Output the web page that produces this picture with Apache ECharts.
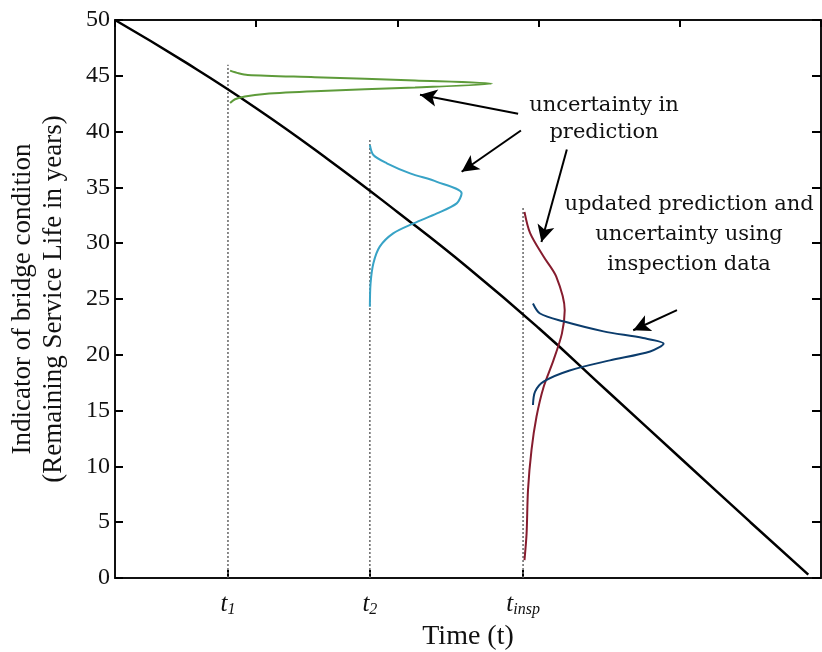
<!DOCTYPE html>
<html>
<head>
<meta charset="utf-8">
<script src="https://cdn.jsdelivr.net/npm/echarts@6/dist/echarts.min.js"></script>
<style>
  html, body { margin: 0; padding: 0; background: #fff; }
  #chart { width: 822px; height: 652px; }
</style>
</head>
<body>
<div id="chart"></div>
<script>
// time ticks (t1, t2, t_insp) on a 0-100 time scale
const tickT = [16, 36.1, 57.8];
const tickSub = ['1', '2', 'insp'];
// top of each dotted guide line
const guideTop = [46.0, 39.4, 33.2];

// deterioration curve
const condX = [0, 10, 20, 30, 40, 50, 60, 70, 80, 90, 98.2];
const condY = [50, 46.2, 42.1, 37.6, 32.8, 27.8, 22.4, 16.6, 10.8, 5.0, 0.3];

// distributions drawn sideways [time, condition]
const pdfT1 = [
  [16.3, 45.46], [17.5, 45.23], [18.8, 45.08], [28.3, 44.88], [42.5, 44.58], [53.4, 44.3],
  [42.5, 43.95], [28.3, 43.62], [21.2, 43.38], [18.4, 43.15], [17.0, 42.9], [16.3, 42.56]
];
const pdfT2 = [
  [36.1, 38.8], [36.6, 37.9], [38.5, 37.16], [41.8, 36.26], [45.6, 35.5], [49.1, 34.47],
  [48.4, 33.57], [45.6, 32.67], [42.3, 31.78], [39.4, 30.88], [37.5, 29.69], [36.6, 28.2],
  [36.2, 26.4], [36.1, 24.3]
];
const pdfPrior = [
  [58.0, 32.8], [58.8, 30.9], [60.7, 28.8], [62.5, 27.0], [63.7, 24.0], [63.3, 21.9],
  [62.1, 19.5], [60.7, 17.1], [59.7, 14.45], [59.0, 11.5], [58.5, 7.9], [58.3, 4.0], [58.0, 1.6]
];
const pdfUpdated = [
  [59.2, 24.6], [60.2, 23.7], [63.5, 23.0], [69.2, 22.1], [74.8, 21.5], [77.7, 21.0],
  [75.8, 20.3], [70.1, 19.5], [64.4, 18.6], [60.7, 17.6], [59.5, 16.7], [59.2, 15.5]
];

// annotation arrows: [from, to]
const arrows = [
  [[57.1, 41.6], [43.2, 43.3]],
  [[57.5, 40.1], [49.1, 36.4]],
  [[64.0, 38.4], [60.4, 30.1]],
  [[79.6, 24.0], [73.4, 22.2]]
];

const serif = '"Liberation Serif", "Times New Roman", serif';
const bookSerif = '"DejaVu Serif", serif';
const chart = echarts.init(document.getElementById('chart'));

const guides = tickT.map((t, i) => ({
  type: 'line',
  data: [[t, 0], [t, guideTop[i]]],
  symbol: 'none',
  silent: true,
  z: 1,
  lineStyle: { color: '#666', width: 1.5, type: [2, 2] }
}));

function pdfSeries(data, color) {
  return {
    type: 'line',
    data: data,
    symbol: 'none',
    smooth: 0.3,
    z: 3,
    lineStyle: { color: color, width: 2 }
  };
}

// primary axes already sit on zero; the opposite ones must not jump there
const mainLine = () => ({ show: true, lineStyle: { color: '#111', width: 2 } });
const farLine = () => ({ show: true, onZero: false, lineStyle: { color: '#111', width: 2 } });
const frameTick = (len) => ({ show: true, inside: true, length: len, lineStyle: { color: '#000', width: 2 } });
// keep the split lines "on" but invisible so the tick layout stays active
const hiddenSplit = () => ({ show: true, lineStyle: { color: 'rgba(0,0,0,0)', width: 0 } });

chart.setOption({
  animation: false,
  grid: { left: 115, right: 1, top: 20, bottom: 74, outerBoundsMode: 'none' },
  xAxis: [{
    type: 'value',
    min: 0,
    max: 100,
    splitLine: hiddenSplit(),
    axisLine: mainLine(),
    axisTick: Object.assign(frameTick(8), { customValues: tickT }),
    axisLabel: {
      customValues: tickT,
      margin: 12,
      formatter: v => {
        const i = tickT.indexOf(v);
        return '{t|t}{s|' + tickSub[i] + '}';
      },
      rich: {
        t: { fontFamily: serif, fontStyle: 'italic', fontSize: 25, color: '#111' },
        s: { fontFamily: serif, fontStyle: 'italic', fontSize: 16, color: '#111', verticalAlign: 'bottom', padding: [12, 0, 0, 0] }
      }
    },
    name: 'Time (t)',
    nameLocation: 'middle',
    nameGap: 35,
    nameTextStyle: { fontFamily: serif, fontSize: 28, color: '#111' }
  }, {
    type: 'value',
    position: 'top',
    min: 0,
    max: 100,
    interval: 20,
    splitLine: hiddenSplit(),
    axisLine: farLine(),
    axisTick: frameTick(7),
    axisLabel: { show: false }
  }],
  yAxis: [{
    type: 'value',
    min: 0,
    max: 50,
    interval: 5,
    splitLine: hiddenSplit(),
    axisLine: mainLine(),
    axisTick: frameTick(8),
    axisLabel: { margin: 5, fontFamily: serif, fontSize: 24, color: '#111' },
    name: 'Indicator of bridge condition\n(Remaining Service Life in years)',
    nameLocation: 'middle',
    nameRotate: 90,
    nameGap: 46,
    nameTextStyle: { fontFamily: serif, fontSize: 27, color: '#111', lineHeight: 31 }
  }, {
    type: 'value',
    position: 'right',
    min: 0,
    max: 50,
    interval: 5,
    splitLine: hiddenSplit(),
    axisLine: farLine(),
    axisTick: frameTick(9),
    axisLabel: { show: false }
  }],
  series: [
    ...guides,
    {
      type: 'line',
      data: condX.map((x, i) => [x, condY[i]]),
      symbol: 'none',
      smooth: true,
      z: 2,
      lineStyle: { color: '#000', width: 2.5 }
    },
    pdfSeries(pdfT1, '#5e9b3a'),
    pdfSeries(pdfT2, '#38a3c6'),
    pdfSeries(pdfPrior, '#861c2e'),
    pdfSeries(pdfUpdated, '#0b3c6c'),
    {
      type: 'line',
      data: [],
      markLine: {
        silent: true,
        symbol: ['none', 'arrow'],
        symbolSize: [13, 17],
        label: { show: false },
        lineStyle: { color: '#000', width: 2, type: 'solid' },
        data: arrows.map(a => [{ coord: a[0] }, { coord: a[1] }])
      }
    }
  ],
  graphic: [
    {
      type: 'text',
      x: 604, y: 92,
      style: {
        text: 'uncertainty in\nprediction',
        textAlign: 'center',
        textVerticalAlign: 'top',
        font: '21px ' + bookSerif,
        lineHeight: 27,
        fill: '#111'
      }
    },
    {
      type: 'text',
      x: 689, y: 190,
      style: {
        text: 'updated prediction and\nuncertainty using\ninspection data',
        textAlign: 'center',
        textVerticalAlign: 'top',
        font: '21px ' + bookSerif,
        lineHeight: 30,
        fill: '#111'
      }
    }
  ]
});
</script>
</body>
</html>
